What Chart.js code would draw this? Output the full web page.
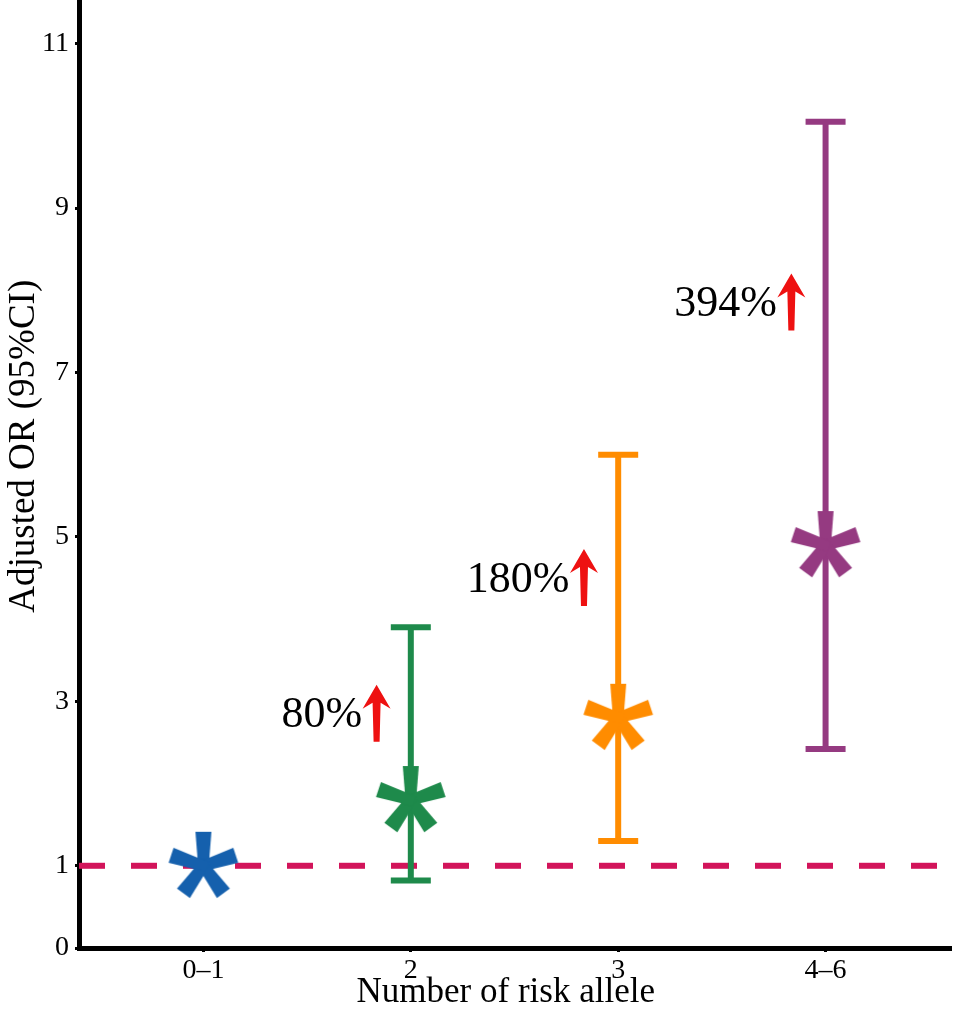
<!DOCTYPE html>
<html>
<head>
<title>Adjusted OR by number of risk allele</title>
<script src="https://cdn.jsdelivr.net/npm/chart.js"></script>
<style>
  body { margin: 0; background: #fff; }
</style>
</head>
<body>
<canvas id="chart" width="957" height="1015"></canvas>
<script>
var categories = ["0–1", "2", "3", "4–6"];
var orValues = [1, 1.8, 2.8, 4.9];
var ciLower = [null, 0.82, 1.3, 2.42];
var ciUpper = [null, 3.9, 6.0, 10.05];
var yTicks = [0, 1, 3, 5, 7, 9, 11];
var increaseLabels = [null, "80%", "180%", "394%"];
var increaseLabelY = [null, 2.85, 4.5, 7.85];
var referenceOR = 1;
var colors = ["#1560ad", "#1e8a4b", "#ff8c00", "#953a81"];

var serif = "'Liberation Serif', 'Times New Roman', serif";

// 5-armed asterisk used as point style, arms widen towards the tip
function makeAsterisk(color) {
  var c = document.createElement("canvas");
  c.width = 80;
  c.height = 80;
  var g = c.getContext("2d");
  g.translate(40, 40);
  g.fillStyle = color;
  for (var i = 0; i < 5; i++) {
    g.save();
    g.rotate((i * 2 * Math.PI) / 5);
    g.beginPath();
    g.moveTo(-5, 4);
    g.lineTo(-8, -34);
    g.lineTo(8, -34);
    g.lineTo(5, 4);
    g.closePath();
    g.fill();
    g.restore();
  }
  return c;
}

// error bars go on top of the dashed line but under the asterisks
var extras = {
  id: "extras",
  afterDatasetDraw: function (chart, args) {
    if (args.index !== 1) return;
    var ctx = chart.ctx, x = chart.scales.x, y = chart.scales.y;
    ctx.save();
    for (var i = 0; i < categories.length; i++) {
      if (ciLower[i] == null) continue;
      var px = x.getPixelForValue(i);
      var top = y.getPixelForValue(ciUpper[i]);
      var bot = y.getPixelForValue(ciLower[i]);
      ctx.strokeStyle = colors[i];
      ctx.lineWidth = 6;
      ctx.beginPath();
      ctx.moveTo(px, top); ctx.lineTo(px, bot);
      ctx.moveTo(px - 20, top); ctx.lineTo(px + 20, top);
      ctx.moveTo(px - 20, bot); ctx.lineTo(px + 20, bot);
      ctx.stroke();
    }
    ctx.restore();
  },
  afterDatasetsDraw: function (chart) {
    var ctx = chart.ctx, x = chart.scales.x, y = chart.scales.y;
    var step = x.getPixelForValue(1) - x.getPixelForValue(0);
    ctx.save();
    for (var i = 0; i < categories.length; i++) {
      if (!increaseLabels[i]) continue;
      var px = x.getPixelForValue(i);
      var py = y.getPixelForValue(increaseLabelY[i]);
      ctx.fillStyle = "#000";
      ctx.font = "44px " + serif;
      ctx.textAlign = "right";
      ctx.textBaseline = "middle";
      ctx.fillText(increaseLabels[i], px - 0.235 * step, py + 2);

      // red up arrow
      var ax = px - 0.165 * step;
      ctx.fillStyle = "#ee1111";
      ctx.beginPath();
      ctx.moveTo(ax, py - 29);
      ctx.lineTo(ax + 14, py - 5);
      ctx.lineTo(ax + 4, py - 11);
      ctx.lineTo(ax + 3, py + 28);
      ctx.lineTo(ax - 3, py + 28);
      ctx.lineTo(ax - 4, py - 11);
      ctx.lineTo(ax - 14, py - 5);
      ctx.closePath();
      ctx.fill();
    }
    ctx.restore();
  }
};

function noPadding(axis) {
  axis.paddingTop = 0;
  axis.paddingBottom = 0;
  axis.paddingLeft = 0;
  axis.paddingRight = 0;
}

var ctx = document.getElementById("chart").getContext("2d");
var chart = new Chart(ctx, {
  type: "scatter",
  data: {
    datasets: [
      {
        label: "Adjusted OR",
        data: orValues.map(function (v, i) { return { x: i, y: v }; }),
        pointStyle: colors.map(makeAsterisk),
        showLine: false,
        order: 0
      },
      {
        type: "line",
        label: "Reference",
        data: [{ x: -0.6, y: referenceOR }, { x: 3.6, y: referenceOR }],
        borderColor: "#d2145a",
        borderWidth: 6,
        borderDash: [26, 26],
        pointRadius: 0,
        fill: false,
        order: 1
      }
    ]
  },
  plugins: [extras],
  options: {
    responsive: false,
    animation: false,
    events: [],
    layout: { autoPadding: false, padding: { top: 0, right: 7, left: 0, bottom: 0 } },
    plugins: {
      legend: { display: false },
      tooltip: { enabled: false }
    },
    scales: {
      x: {
        type: "linear",
        min: -0.6,
        max: 3.6,
        afterBuildTicks: function (axis) {
          axis.ticks = categories.map(function (c, i) { return { value: i }; });
        },
        afterFit: function (axis) { axis.height = 67; noPadding(axis); },
        ticks: {
          color: "#000",
          font: { family: serif, size: 28 },
          padding: 2,
          maxRotation: 0,
          callback: function (v) { return categories[v]; }
        },
        grid: { display: true, drawOnChartArea: false, tickLength: 4, color: "#000", lineWidth: 3 },
        border: { display: true, width: 5, color: "#000" },
        title: {
          display: true,
          text: "Number of risk allele\u2002",
          color: "#000",
          font: { family: serif, size: 35 },
          padding: { top: 0, bottom: 1 }
        }
      },
      y: {
        min: 0,
        max: 11.53,
        afterBuildTicks: function (axis) {
          axis.ticks = yTicks.map(function (v) { return { value: v }; });
        },
        afterFit: function (axis) { axis.width = 79; noPadding(axis); },
        ticks: {
          color: "#000",
          font: { family: serif, size: 28 },
          padding: 6
        },
        grid: { display: true, drawOnChartArea: false, tickLength: 4, color: "#000", lineWidth: 3 },
        border: { display: true, width: 5, color: "#000" },
        title: {
          display: true,
          text: "\u2002\u2002\u2002Adjusted OR (95%CI)",
          color: "#000",
          font: { family: serif, size: 37 },
          padding: { top: 2, bottom: 0 }
        }
      }
    }
  }
});
</script>
</body>
</html>
